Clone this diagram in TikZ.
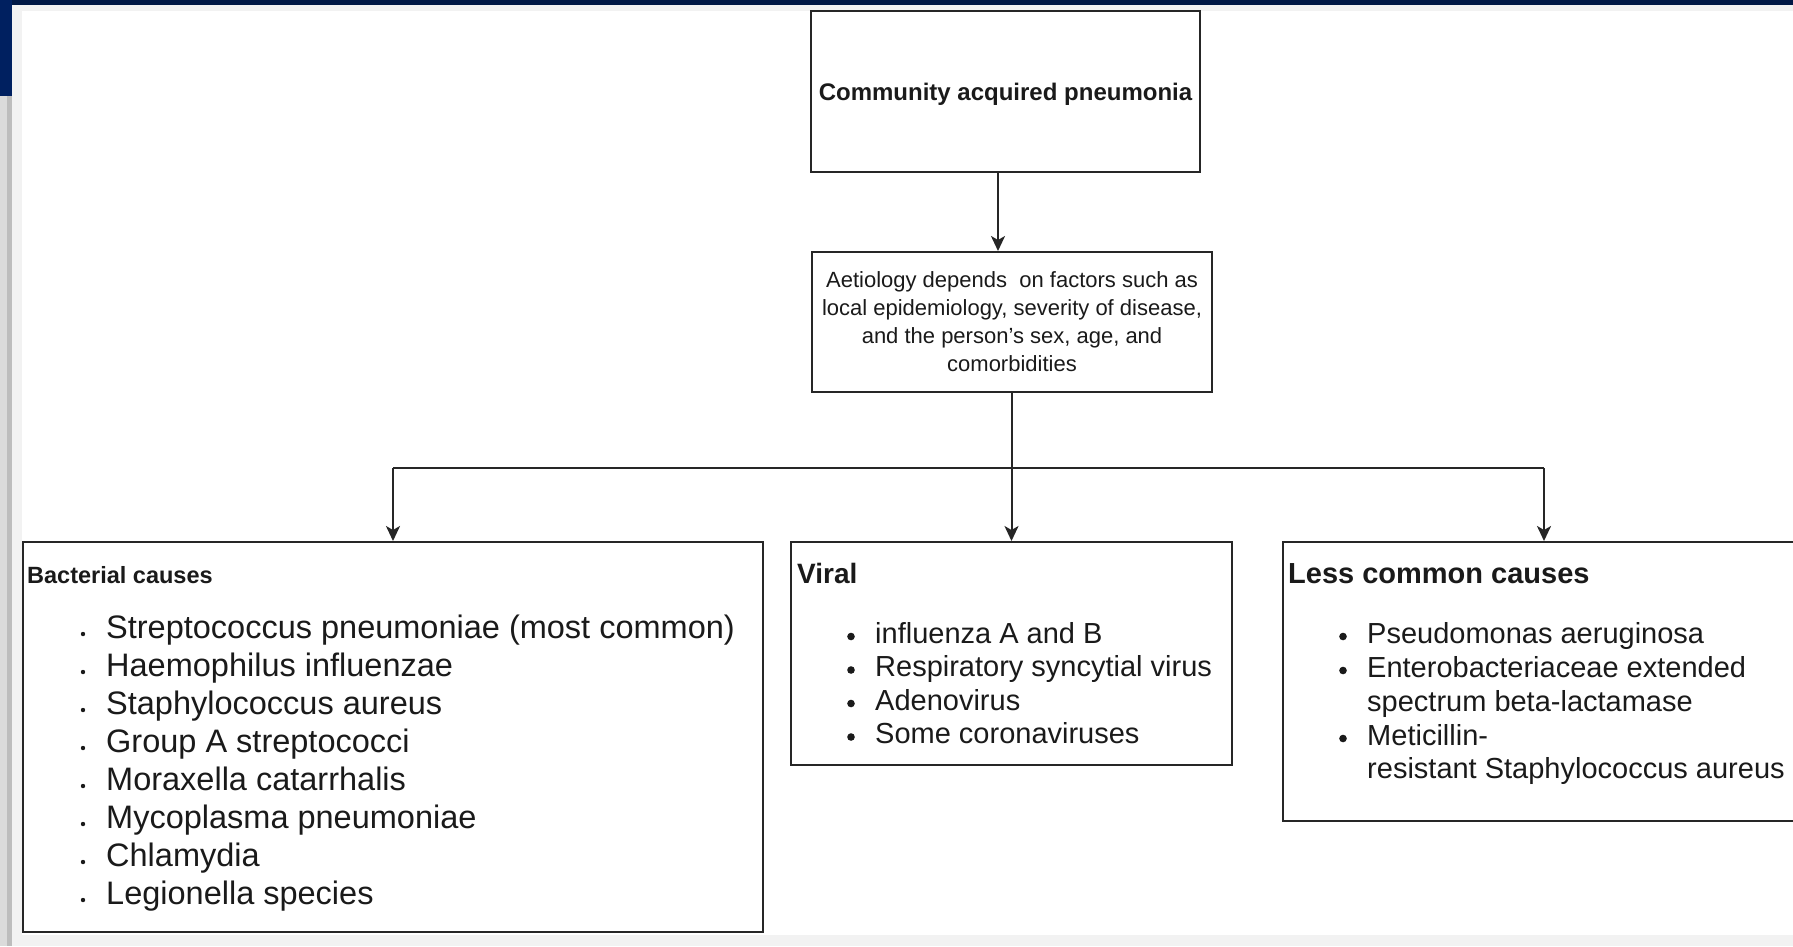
\documentclass[tikz,border=0pt]{standalone}
\usepackage{fontspec}
\setmainfont{Liberation Sans}
\usetikzlibrary{arrows.meta}

\definecolor{navy}{RGB}{0,24,69}
\definecolor{navyside}{RGB}{0,32,96}
\definecolor{framegray}{RGB}{242,242,242}
\definecolor{ink}{RGB}{26,26,26}

\newcommand{\pxsize}[2]{\fontsize{#1}{#2}\selectfont}

\begin{document}
\begin{tikzpicture}[x=1pt,y=-1pt,
  box/.style={draw=black!85,line width=2pt,inner sep=0pt},
  arr/.style={draw=black!85,line width=2pt,-{Stealth[length=15pt,width=14pt,inset=4pt]}},
  hd/.style={anchor=base west,inner sep=0pt,text=ink},
  itm/.style={anchor=base west,inner sep=0pt,text=ink}]
  \useasboundingbox (0,0) rectangle (1793,946);
  \clip (0,0) rectangle (1793,946);

  % window frame
  \fill[framegray] (0,0) rectangle (1793,946);
  \fill[white] (22,11) rectangle (1793,935);
  \fill[navy] (0,0) rectangle (1793,5);
  \fill[navyside] (0,0) rectangle (12,96);
  \fill[black!14] (0,96) rectangle (12,946);
  \fill[black!26] (7,96) rectangle (12,946);

  % boxes
  \node[box,minimum width=389,minimum height=161,text depth=0pt,text=ink,font=\pxsize{24}{28}\bfseries]
    (cap) at (1005.5,91.5) {Community acquired pneumonia};
  \node[box,minimum width=400,minimum height=140,align=center,text=ink,font=\pxsize{22}{28}]
    (aet) at (1012,322) {Aetiology depends\ \ on factors such as\\local epidemiology, severity of disease,\\and the person’s sex, age, and\\comorbidities};
  \node[box,minimum width=740,minimum height=390] (bact) at (393,737) {};
  \node[box,minimum width=441,minimum height=223] (vir) at (1011.5,653.5) {};
  \node[box,minimum width=522,minimum height=279] (less) at (1544,681.5) {};

  % connectors
  \draw[arr] ([xshift=-7.5pt]cap.south) -- ([xshift=-7.5pt]cap.south |- aet.north);
  \path (aet.south) ++(0,75) coordinate (bus);
  \draw[draw=black!85,line width=2pt] (aet.south) -- (bus);
  \draw[draw=black!85,line width=2pt] (bact.north |- bus) -- (less.north |- bus);
  \foreach \n in {bact,vir,less}
    \draw[arr] (\n.north |- bus) -- (\n.north);

  % bacterial causes
  \node[hd,font=\pxsize{23.5}{28}\bfseries] (bhd) at (27,583) {Bacterial causes};
  \foreach \txt [count=\i] in {Streptococcus pneumoniae (most common),Haemophilus influenzae,
      Staphylococcus aureus,Group A streptococci,Moraxella catarrhalis,
      Mycoplasma pneumoniae,Chlamydia,Legionella species}{
    \node[itm,font=\pxsize{32.5}{38}] (b\i) at (106,600+38*\i) {\txt};
    \fill[ink] (b\i.base west) ++(-23,-4) circle (2.2);
  }

  % viral
  \node[hd,font=\pxsize{28}{34}\bfseries] (vhd) at (797,583) {Viral};
  \foreach \txt [count=\i] in {influenza A and B,Respiratory syncytial virus,
      Adenovirus,Some coronaviruses}{
    \node[itm,font=\pxsize{29}{34}] (v\i) at (875,609.5+33.5*\i) {\txt};
    \fill[ink] (v\i.base west) ++(-24,-6.5) circle (3.8);
  }

  % less common
  \node[hd,font=\pxsize{29}{34}\bfseries] (lhd) at (1288,583) {Less common causes};
  \node[itm,font=\pxsize{29}{34}] (l1) at (1367,643) {Pseudomonas aeruginosa};
  \node[itm,font=\pxsize{29}{34}] (l2) at (1367,677) {Enterobacteriaceae extended};
  \node[itm,font=\pxsize{29}{34}] (l2b) at (1367,711) {spectrum beta-lactamase};
  \node[itm,font=\pxsize{29}{34}] (l3) at (1367,745) {Meticillin-};
  \node[itm,font=\pxsize{29}{34}] (l3b) at (1367,778) {resistant Staphylococcus aureus};
  \foreach \n in {l1,l2,l3}
    \fill[ink] (\n.base west) ++(-24,-6.5) circle (3.8);
\end{tikzpicture}
\end{document}
